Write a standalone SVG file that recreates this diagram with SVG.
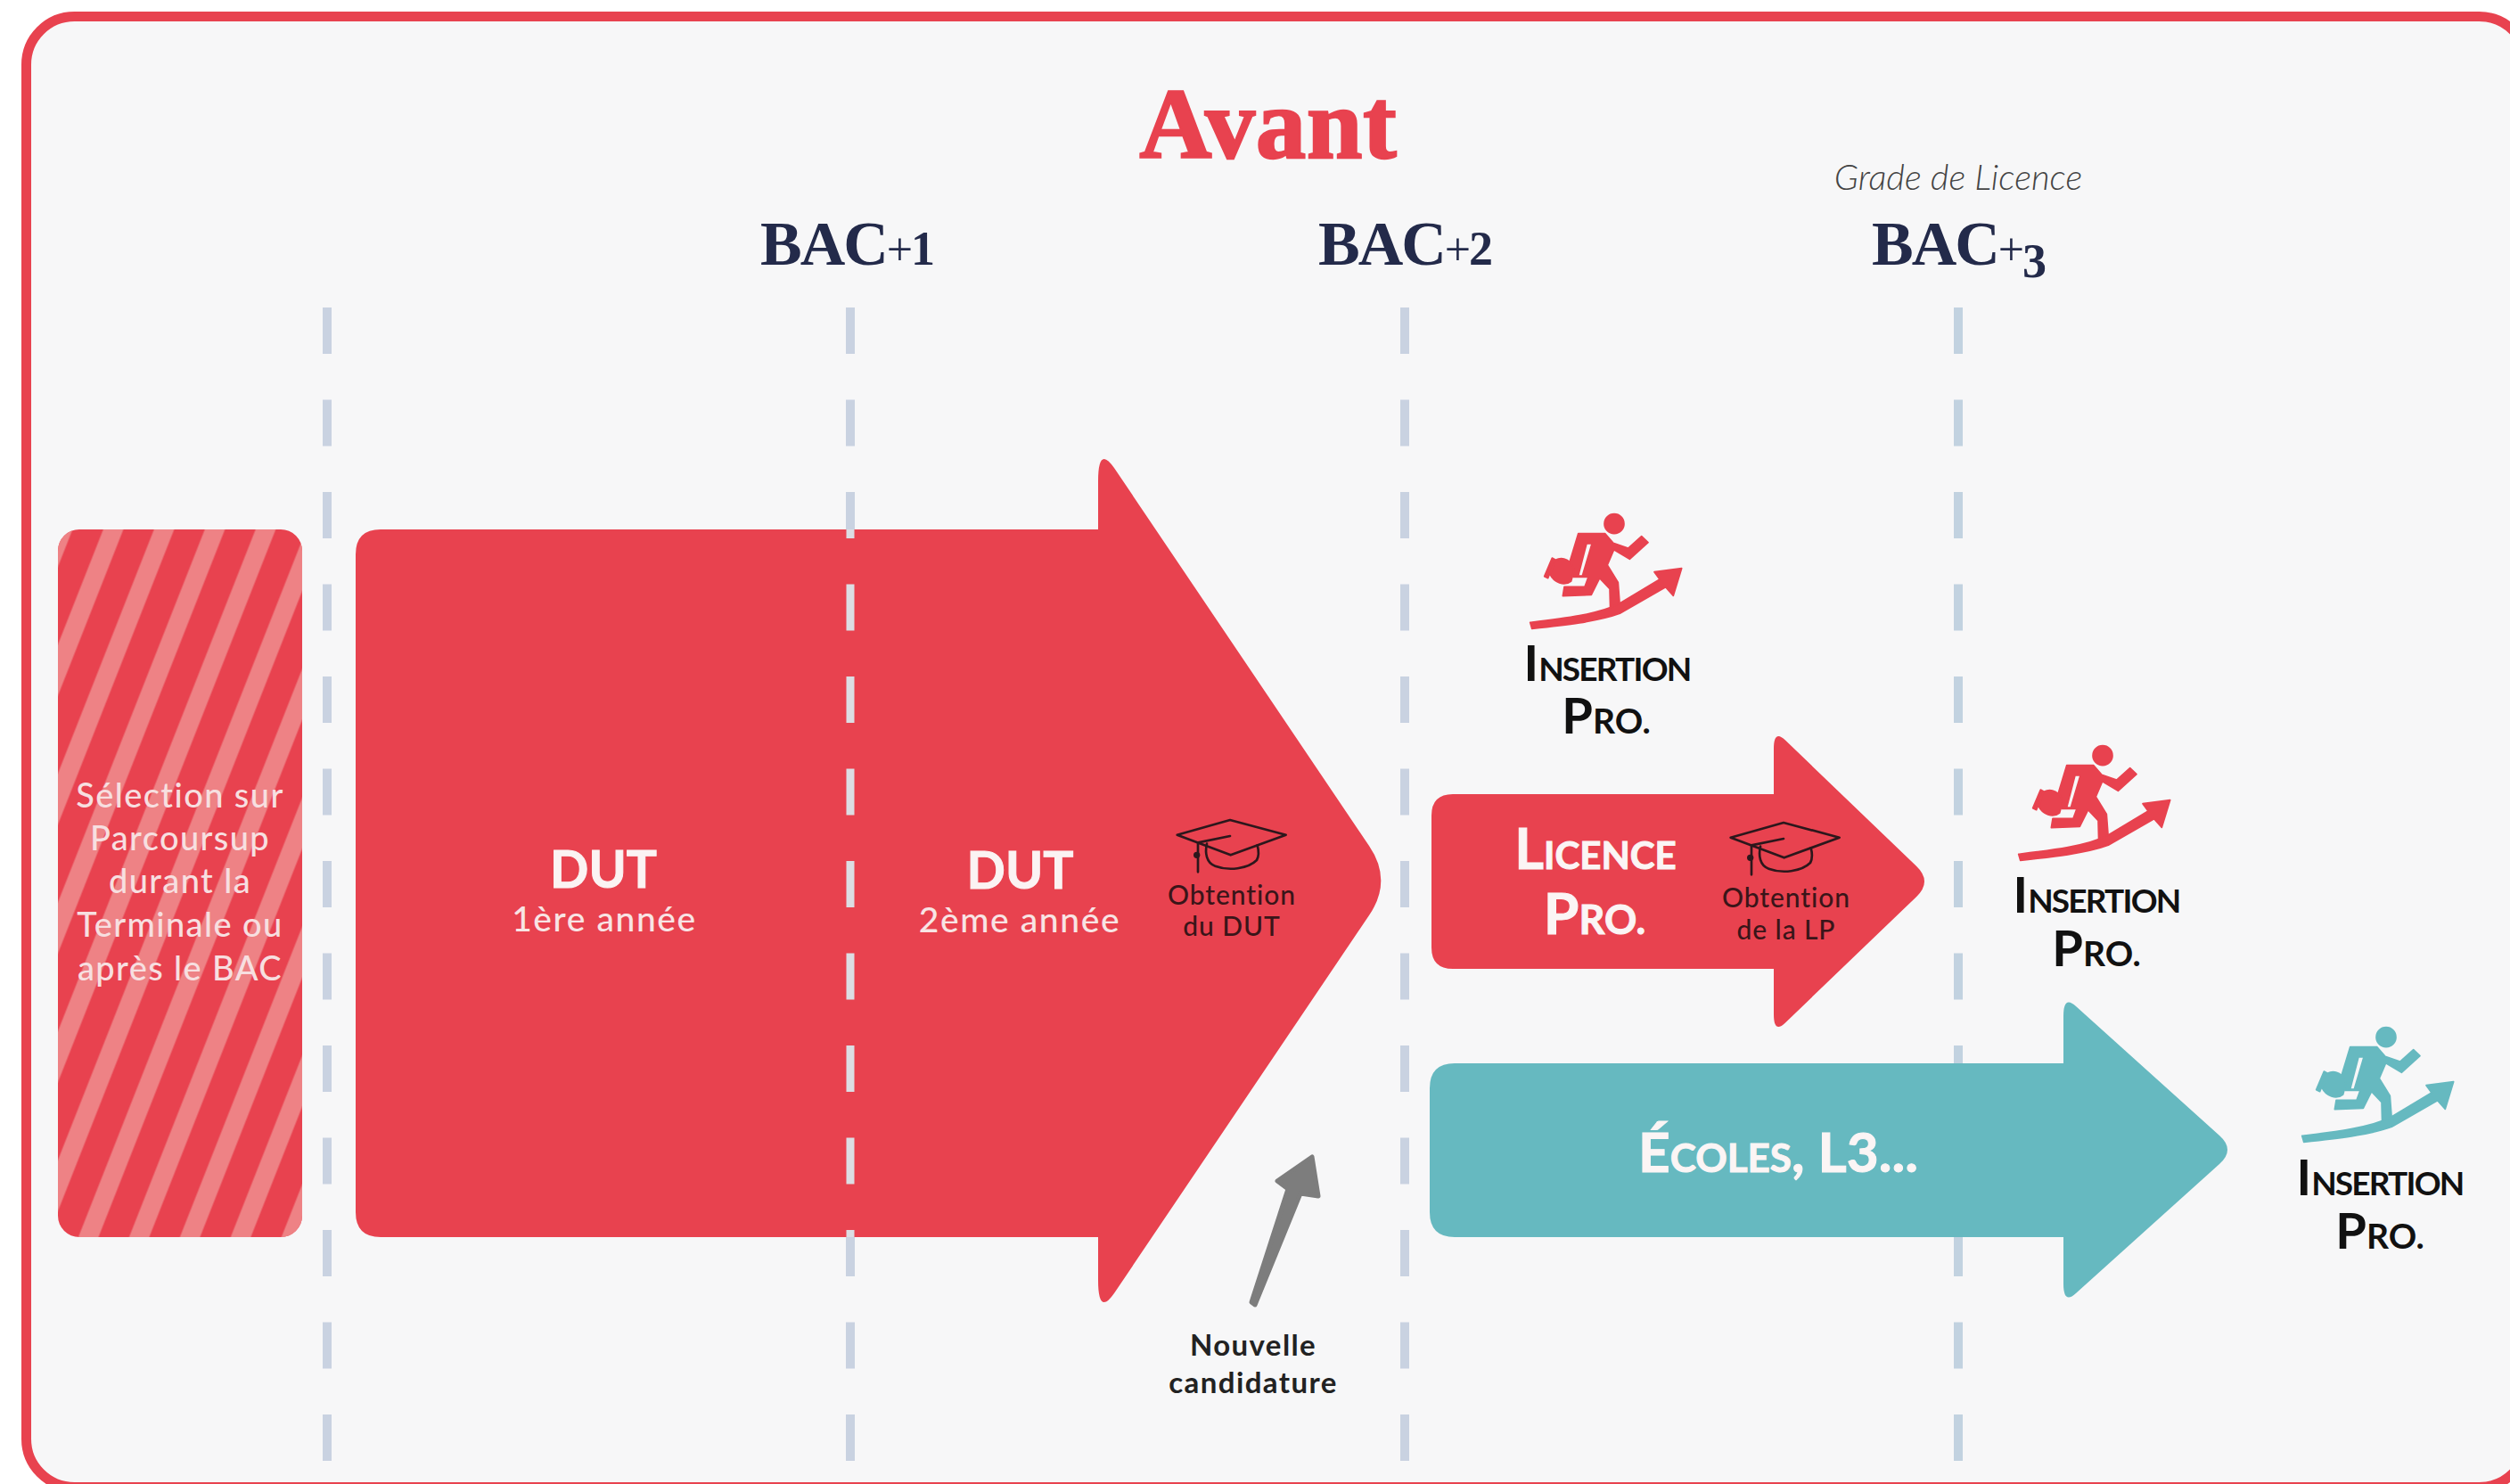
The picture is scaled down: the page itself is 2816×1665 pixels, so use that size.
<svg xmlns="http://www.w3.org/2000/svg" width="2816" height="1665" viewBox="0 0 2816 1665">
<style>
text{font-family:"Lato","Noto Sans",sans-serif;text-anchor:middle}
.red{fill:#e8424f}.teal{fill:#66b9c0}
.guide{fill:none;stroke:#c9d2e1;stroke-width:10;stroke-dasharray:52 51.5}
.guideL{fill:none;stroke:#dcdde3;stroke-width:9;stroke-dasharray:52 51.5}
.bac{font-family:"Liberation Serif",serif;font-weight:700;font-size:70px;fill:#232a4a}
.plus{font-weight:400;font-size:52px}
.dig{font-size:54px}
.sel{font-size:38px;font-weight:500;fill:#f7dfe0;letter-spacing:1.4px}
.big{font-size:57px;font-weight:700;fill:#fbf3f3;stroke:#fbf3f3;stroke-width:1}
.sub{font-size:39px;font-weight:500;fill:#f8e4e4;letter-spacing:1.6px}
.obt{font-size:30px;font-weight:500;fill:#3a1519;letter-spacing:.9px}
.nv{font-size:33px;font-weight:700;fill:#222;letter-spacing:1.4px}
.ins{font-size:56px;font-weight:700;fill:#111}
.sc{font-size:37px;letter-spacing:-1.8px}
.sp{font-size:39px}
.wh{fill:#fbf5f5;stroke:#fbf5f5;stroke-width:1}
.cap{fill:none;stroke:#2c171c;stroke-width:8;stroke-linejoin:round;stroke-linecap:round}
.capd{fill:#2c171c}
.rr{stroke:#e8424f;stroke-width:5;stroke-linejoin:round}
.rt{stroke:#66b9c0;stroke-width:5;stroke-linejoin:round}
</style>
<defs>
<pattern id="stripes" patternUnits="userSpaceOnUse" width="53" height="53" patternTransform="rotate(21.5)">
<rect x="7.5" y="0" width="21" height="53" fill="#ee8285"/>
</pattern>
<clipPath id="inArrow"><rect x="940" y="594" width="30" height="794"/></clipPath>
<symbol id="runner" viewBox="0 0 600 480" width="200" height="160" overflow="visible">
<circle cx="333" cy="83" r="33"/>
<path fill-rule="evenodd" d="M212 116H302L330 148 380 165 425 125 447 146 385 202 332 170 310 222 346 280 352 360 320 378 318 302 284 266 256 322 160 326 165 295 234 295 246 262 195 262 182 215ZM240 150L212 258 226 258 258 150Z"/>
<path d="M135 205C160 192 192 205 198 240L188 276C165 295 130 280 118 255ZM124 198L135 204 110 266 98 260Z"/>
<path d="M50 415C160 402 280 388 350 352L486 270 468 245 560 233 532 325 506 296 352 385C280 412 160 425 56 436Z"/>
</symbol>
<symbol id="gradcap" viewBox="0 0 510 510" width="170" height="170" overflow="visible">
<path class="cap" d="M62 110L240 60 428 110 242 178Z"/>
<path class="cap" d="M162 140C155 170 160 205 190 215 235 232 300 225 330 195 338 180 336 160 332 145"/>
<path class="cap" d="M240 114L132 136V235"/>
<circle class="capd" cx="128" cy="178" r="11"/>
</symbol>
</defs>
<rect width="2816" height="1665" fill="#fff"/>
<rect id="frame" x="29.5" y="18.5" width="2806" height="1650" rx="54" fill="#f7f7f8" stroke="#e8424f" stroke-width="11"/>
<g id="connectors">
<path class="guide" d="M367 345V1645"/>
<path class="guide" d="M954 345V1645"/>
<path class="guide" d="M1576 345V1645"/>
<path class="guide" style="stroke:#c2d2e0" d="M2197 345V1645"/>
<path d="M1404 1461L1445 1334 1433 1325 1472 1298 1479 1342 1459 1339 1408 1464Z" fill="#7d7d7d" stroke="#7d7d7d" stroke-width="5" stroke-linejoin="round"/>
</g>
<g id="title">
<text x="1423" y="177" font-size="112" letter-spacing="1" style="font-family:'Liberation Serif',serif;font-weight:700;fill:#e8424f;stroke:#e8424f;stroke-width:2.5">Avant</text>
</g>
<g id="bac1"><text class="bac" x="950" y="297" letter-spacing="-2">BAC<tspan class="plus">+</tspan><tspan class="dig">1</tspan></text></g>
<g id="bac2"><text class="bac" x="1576" y="297" letter-spacing="-2">BAC<tspan class="plus">+</tspan><tspan class="dig">2</tspan></text></g>
<g id="bac3">
<text x="2197" y="213" font-size="40" font-style="italic" font-weight="300" fill="#444">Grade de Licence</text>
<text class="bac" x="2197" y="297" letter-spacing="-2">BAC<tspan class="plus">+</tspan><tspan class="dig" dy="14">3</tspan></text>
</g>
<g id="selection">
<rect x="65" y="594" width="274" height="794" rx="24" class="red"/>
<rect x="65" y="594" width="274" height="794" rx="24" fill="url(#stripes)"/>
<text class="sel" x="202" y="906">Sélection sur</text>
<text class="sel" x="202" y="954">Parcoursup</text>
<text class="sel" x="202" y="1002">durant la</text>
<text class="sel" x="202" y="1051">Terminale ou</text>
<text class="sel" x="202" y="1100">après le BAC</text>
</g>
<g id="dut">
<path class="red" d="M427 594H1232V540Q1232 499 1250 525L1536 949Q1562.6 988 1536 1027L1250 1451Q1232 1477 1232 1436V1388H427Q399 1388 399 1360V622Q399 594 427 594Z"/>
<path class="guideL" clip-path="url(#inArrow)" d="M954 345V1645"/>
<text class="big" x="677" y="996">DUT</text>
<text class="sub" x="678" y="1045">1ère année</text>
<text class="big" x="1144.5" y="997">DUT</text>
<text class="sub" x="1144" y="1046">2ème année</text>
<use href="#gradcap" x="1300" y="900"/>
<text class="obt" x="1382" y="1015">Obtention</text>
<text class="obt" x="1382" y="1050">du DUT</text>
</g>
<g id="licence">
<path class="red" d="M1630 891H1990V840Q1990 818 2003 830.5L2150 971.8Q2168 989 2150 1006.2L2003 1147.5Q1990 1160 1990 1138V1087H1630Q1606 1087 1606 1063V915Q1606 891 1630 891Z"/>
<text class="ins wh" x="1790" y="975" style="font-size:63px">L<tspan style="font-size:42px">ICENCE</tspan></text>
<text class="ins wh" x="1789" y="1048" style="font-size:64px">P<tspan style="font-size:45px">RO.</tspan></text>
<use href="#gradcap" x="1921" y="903"/>
<text class="obt" x="2004" y="1018">Obtention</text>
<text class="obt" x="2004" y="1054">de la LP</text>
</g>
<g id="ecoles">
<path class="teal" d="M1632 1193H2315V1140Q2315 1116 2329 1129L2490 1274Q2508 1290 2490 1306L2329 1451Q2315 1464 2315 1440V1388H1632Q1604 1388 1604 1360V1221Q1604 1193 1632 1193Z"/>
<text class="ins wh" x="1995" y="1315" style="font-size:62px">É<tspan style="font-size:44px">COLES</tspan>, L3...</text>
</g>
<g id="nouvelle">
<text class="nv" x="1406" y="1521">Nouvelle</text>
<text class="nv" x="1406" y="1563">candidature</text>
</g>
<g id="insertion1" fill="#e8424f">
<use href="#runner" class="rr" x="1700" y="560"/>
<text class="ins" x="1803" y="764">I<tspan class="sc">NSERTION</tspan></text>
<text class="ins" x="1802" y="823">P<tspan class="sp">RO.</tspan></text>
</g>
<g id="insertion2" fill="#e8424f">
<use href="#runner" class="rr" x="2248" y="820"/>
<text class="ins" x="2352" y="1024">I<tspan class="sc">NSERTION</tspan></text>
<text class="ins" x="2352" y="1084">P<tspan class="sp">RO.</tspan></text>
</g>
<g id="insertion3" fill="#66b9c0">
<use href="#runner" class="rt" x="2566" y="1136"/>
<text class="ins" x="2670" y="1341">I<tspan class="sc">NSERTION</tspan></text>
<text class="ins" x="2670" y="1401">P<tspan class="sp">RO.</tspan></text>
</g>
</svg>
